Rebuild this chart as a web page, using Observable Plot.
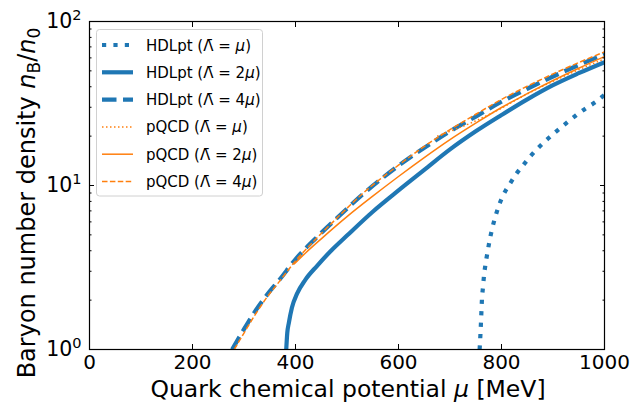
<!DOCTYPE html>
<html>
<head>
<meta charset="utf-8">
<script src="https://cdn.jsdelivr.net/npm/d3@7"></script>
<script src="https://cdn.jsdelivr.net/npm/@observablehq/plot@0.6"></script>
<style>
  html, body { margin: 0; padding: 0; background: #fff; }
  #chart { width: 644px; height: 405px; }
</style>
</head>
<body>
<div id="chart"></div>
<script>
// ---- data ----
const xTicks = [0, 200, 400, 600, 800, 1000];
const yMajor = [1, 10, 100];
const yTickExp = ["0", "1", "2"];
const yMinor = [2, 3, 4, 5, 6, 7, 8, 9, 20, 30, 40, 50, 60, 70, 80, 90];

const seriesNames = ["HDLpt", "HDLpt", "HDLpt", "pQCD", "pQCD", "pQCD"];
const seriesLambda = ["", "2", "4", "", "2", "4"];

// HDLpt, Λ̄ = μ
const hdl1Mu = [757.5, 759, 760, 761, 762, 764, 766, 769, 773, 777, 782, 788, 795, 804, 816, 829, 843, 858, 874, 891, 909, 927, 945, 964, 984, 1000];
const hdl1N  = [1.0, 1.22, 1.43, 1.7, 2.01, 2.39, 2.81, 3.32, 3.94, 4.64, 5.47, 6.44, 7.55, 8.81, 10.2, 11.8, 13.4, 15.3, 17.3, 19.4, 21.7, 24.2, 26.8, 29.6, 32.5, 35.7];
// HDLpt, Λ̄ = 2μ
const hdl2Mu = [382, 384, 387, 393, 403, 419, 442, 470, 500, 550, 600, 650, 700, 750, 800, 850, 900, 950, 1000];
const hdl2N  = [1.0, 1.26, 1.45, 1.80, 2.19, 2.66, 3.24, 4.03, 4.95, 6.92, 9.33, 12.45, 16.6, 21.4, 26.9, 33.5, 40.9, 48.4, 56.5];
// HDLpt, Λ̄ = 4μ
const hdl4Mu = [277, 300, 320, 345, 370, 400, 440, 480, 530, 600, 660, 700, 750, 800, 850, 900, 950, 1000];
const hdl4N  = [1.0, 1.33, 1.68, 2.16, 2.69, 3.55, 4.79, 6.31, 8.81, 13.2, 17.8, 21.4, 26.3, 32.4, 38.9, 46.2, 54.3, 63.1];
// pQCD, Λ̄ = μ
const pq1Mu = [675, 700, 740, 785, 850, 915, 1000];
const pq1N  = [20.0, 21.4, 24.0, 28.0, 36.2, 45.4, 59.2];
// pQCD, Λ̄ = 2μ
const pq2Mu = [397, 420, 450, 500, 550, 600, 650, 700, 750, 800, 850, 900, 950, 1000];
const pq2N  = [3.31, 3.89, 4.73, 6.46, 8.61, 11.35, 14.8, 19.05, 24.0, 29.9, 36.3, 43.65, 51.9, 61.2];
// pQCD, Λ̄ = 4μ
const pq4Mu = [281, 300, 320, 345, 370, 400, 440, 480, 530, 600, 660, 700, 750, 800, 850, 900, 950, 1000];
const pq4N  = [1.0, 1.26, 1.60, 2.09, 2.63, 3.47, 4.73, 6.31, 8.91, 13.3, 18.2, 21.9, 27.2, 33.5, 40.3, 47.9, 56.2, 65.3];

const seriesMu = [hdl1Mu, hdl2Mu, hdl4Mu, pq1Mu, pq2Mu, pq4Mu];
const seriesN  = [hdl1N, hdl2N, hdl4N, pq1N, pq2N, pq4N];

// ---- styles ----
const BLUE = "#1f77b4", ORANGE = "#ff7f0e";
const styles = [
  {stroke: BLUE, strokeWidth: 4.2, dash: "4.2,7.2"},
  {stroke: BLUE, strokeWidth: 4.2, dash: null},
  {stroke: BLUE, strokeWidth: 4.2, dash: "14.5,6.5"},
  {stroke: ORANGE, strokeWidth: 1.5, dash: "1.5,2.5"},
  {stroke: ORANGE, strokeWidth: 1.5, dash: null},
  {stroke: ORANGE, strokeWidth: 1.5, dash: "5.5,2.4"}
];

const tables = seriesMu.map((mus, i) => mus.map((m, j) => ({mu: m, n: seriesN[i][j]})));

const FONT = "DejaVu Sans";
const lineMarks = tables.map((t, i) => Plot.line(t, {
  x: "mu", y: "n",
  curve: "monotone-x",
  stroke: styles[i].stroke,
  strokeWidth: styles[i].strokeWidth,
  strokeDasharray: styles[i].dash,
  strokeLinecap: "butt",
  strokeLinejoin: "round",
  clip: true
}));

const chart = Plot.plot({
  width: 644,
  height: 405,
  marginLeft: 89,
  marginRight: 40,
  marginTop: 21,
  marginBottom: 56,
  style: {fontFamily: FONT, background: "white", color: "black"},
  x: {domain: [0, 1000], label: null},
  y: {type: "log", domain: [1, 100], label: null},
  marks: [
    ...lineMarks,
    Plot.axisX(xTicks, {anchor: "bottom", tickSize: -5, tickPadding: 10, fontSize: 20, label: null, tickFormat: d => String(d)}),
    Plot.axisX(xTicks, {anchor: "top", tickSize: -5, tickFormat: () => "", label: null}),
    Plot.axisY(yMajor, {anchor: "left", tickSize: -5, tickPadding: 13, fontSize: 20.5, label: null, tickFormat: d => "10^" + yTickExp[yMajor.indexOf(d)]}),
    Plot.axisY(yMinor, {anchor: "left", tickSize: -2.5, tickFormat: () => "", label: null}),
    Plot.axisY(yMajor, {anchor: "right", tickSize: -5, tickFormat: () => "", label: null}),
    Plot.axisY(yMinor, {anchor: "right", tickSize: -2.5, tickFormat: () => "", label: null}),
    Plot.frame({stroke: "black", strokeWidth: 1.2})
  ]
});

document.getElementById("chart").appendChild(chart);

const svg = d3.select(chart);

// rebuild y tick labels as 10 with a raised exponent
svg.selectAll("text").each(function() {
  const el = d3.select(this);
  const s = el.text();
  const m = /^10\^(\d)$/.exec(s);
  if (m) {
    el.text("");
    el.append("tspan").text("10");
    el.append("tspan").attr("font-size", "14.5px").attr("dy", "-0.55em").text(m[1]);
  }
});

// ---- axis titles & legend (annotations) ----
const xl = svg.append("text")
  .attr("x", 348).attr("y", 397)
  .attr("text-anchor", "middle")
  .attr("font-family", FONT).attr("font-size", 23.5).attr("fill", "black");
xl.append("tspan").text("Quark chemical potential ");
xl.append("tspan").attr("font-style", "italic").text("μ");
xl.append("tspan").text(" [MeV]");

const yl = svg.append("text")
  .attr("transform", "translate(35,203) rotate(-90)")
  .attr("text-anchor", "middle")
  .attr("font-family", FONT).attr("font-size", 24).attr("fill", "black");
yl.append("tspan").text("Baryon number density ");
yl.append("tspan").attr("font-style", "italic").text("n");
yl.append("tspan").attr("font-size", 17).attr("dy", 5).text("B");
yl.append("tspan").attr("dy", -5).text("/");
yl.append("tspan").attr("font-style", "italic").text("n");
yl.append("tspan").attr("font-size", 17).attr("dy", 5).text("0");

const lg = svg.append("g");
lg.append("rect")
  .attr("x", 96.5).attr("y", 29.5).attr("width", 166).attr("height", 166.5)
  .attr("rx", 3).attr("fill", "white").attr("fill-opacity", 0.8)
  .attr("stroke", "#d0d0d0").attr("stroke-width", 1);
const rowY0 = 45, rowDy = 27.3;
seriesNames.forEach((name, i) => {
  const y = rowY0 + i * rowDy;
  lg.append("line")
    .attr("x1", 102).attr("x2", 133).attr("y1", y).attr("y2", y)
    .attr("stroke", styles[i].stroke).attr("stroke-width", styles[i].strokeWidth)
    .attr("stroke-dasharray", styles[i].dash).attr("stroke-linecap", "butt");
  const t = lg.append("text")
    .attr("x", 146).attr("y", y + 5.5)
    .attr("text-anchor", "start")
    .attr("font-family", FONT).attr("font-size", 15).attr("fill", "black");
  t.append("tspan").text(name + " (");
  t.append("tspan").text("Λ\u0304");
  t.append("tspan").text(" = " + seriesLambda[i]);
  t.append("tspan").attr("font-style", "italic").text("μ");
  t.append("tspan").text(")");
});
</script>
</body>
</html>
